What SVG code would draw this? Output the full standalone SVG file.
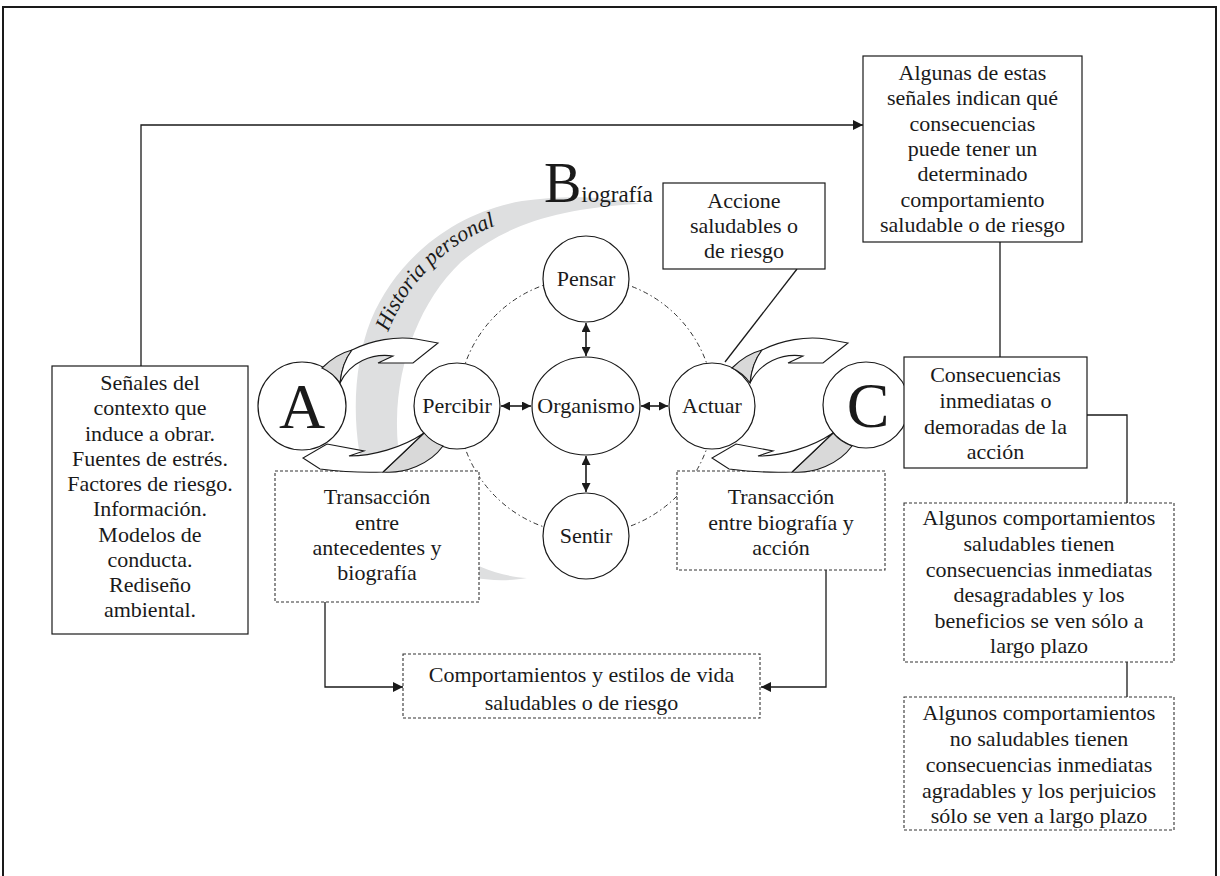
<svg xmlns="http://www.w3.org/2000/svg" width="1220" height="876" viewBox="0 0 1220 876">
<defs>
<style>
  text { font-family: "Liberation Serif", "Times New Roman", serif; fill: #1a1a1a; }
  .t { font-size: 22px; text-anchor: middle; }
  .big { font-size: 64px; text-anchor: middle; }
  .box { fill: #fff; stroke: #1a1a1a; stroke-width: 1.2; }
  .dot { fill: #fff; stroke: #333; stroke-width: 1.1; stroke-dasharray: 3 2; }
  .node { fill: #fff; stroke: #1a1a1a; stroke-width: 1.2; }
  .wire { fill: none; stroke: #1a1a1a; stroke-width: 1.3; }
  .arrow { marker-end: url(#tip); }
  .dbl { fill: none; stroke: #1a1a1a; stroke-width: 1.6; marker-start: url(#head); marker-end: url(#head); }
  .ring { fill: none; stroke: #333; stroke-width: 1; stroke-dasharray: 5 3 1.5 3; }
  .ribbon { fill: #fff; stroke: #1a1a1a; stroke-width: 1.1; stroke-linejoin: miter; }
  .shade { fill: #d9d9d9; stroke: #1a1a1a; stroke-width: 1.1; }
</style>
<marker id="head" viewBox="0 0 10 10" refX="10" refY="5" markerWidth="9" markerHeight="9" markerUnits="userSpaceOnUse" orient="auto-start-reverse">
  <path d="M0,0 L10,5 L0,10 z" fill="#1a1a1a"/>
</marker>
<marker id="tip" viewBox="0 0 10 10" refX="10" refY="5" markerWidth="11" markerHeight="10" markerUnits="userSpaceOnUse" orient="auto">
  <path d="M0,0 L10,5 L0,10 z" fill="#1a1a1a"/>
</marker>
<!-- twisted ribbon arrow, left circle to right circle (upper) -->
<g id="turn-fwd">
  <path class="shade" d="M322,368 Q336,354 352,350 Q342,363 340,383 A44,44 0 0,0 322,368 Z"/>
  <path class="ribbon" d="M352,350 C372,340 396,336 416,339 L438,343 L413,363 L378,363 L393,356 C372,353 350,362 340,383 Q342,363 352,350 Z"/>
</g>
<!-- twisted ribbon arrow, right circle back to left circle (lower) -->
<g id="turn-back">
  <path class="shade" d="M443,446 C430,464 405,474 383,472 Q400,456 424,433 A43,43 0 0,0 443,446 Z"/>
  <path class="ribbon" d="M383,472 C362,473 336,471 320,469 L303,458 L327,444 L364,451 L349,456 C372,456 402,448 424,433 Q400,456 383,472 Z"/>
</g>
</defs>

<rect width="1220" height="876" fill="#fff"/>
<!-- outer frame (open at the bottom edge of the page) -->
<rect x="3" y="7" width="1213" height="900" fill="none" stroke="#1a1a1a" stroke-width="2"/>

<!-- biography band -->
<g id="biografia">
  <path d="M640,204 C605,196 562,195 522,201 C452,213 396,260 371,320 C351,370 351,440 369,490 C386,535 421,565 470,577 C490,581 510,581 527,578 C505,577 476,568 451,550 C411,520 396,470 397,420 C398,360 421,300 461,262 C501,228 552,208 640,204 Z" fill="#dedfe0"/>
  <path id="band-path" d="M388.2,332.1 A184,184 0 0,1 591.9,216.8" fill="none"/>
  <text font-style="italic" font-size="22" fill="#333"><textPath href="#band-path">Historia personal</textPath></text>
  <text x="544" y="202"><tspan font-size="56">B</tspan><tspan font-size="23">iografía</tspan></text>
</g>

<!-- dashed ring through the four processes -->
<circle class="ring" cx="586" cy="406" r="128"/>

<g id="connectors">
  <path class="wire arrow" d="M141,366 V125 H863"/>
  <path class="wire arrow" d="M325,602 V687 H403"/>
  <path class="wire arrow" d="M826,570 V687 H761"/>
  <path class="wire" d="M1000,242 V357"/>
  <path class="wire" d="M1087,415 H1127 V503"/>
  <path class="wire" d="M1127,662 V697"/>
  <path class="wire" d="M725,362 L797,269"/>
  <path class="dbl" d="M586,323 V356"/>
  <path class="dbl" d="M586,456 V492"/>
  <path class="dbl" d="M501,406 H531"/>
  <path class="dbl" d="M641,406 H668"/>
</g>

<g id="node-a"><circle class="node" cx="302" cy="406" r="44"/><text class="big" x="302" y="428">A</text></g>
<g id="node-percibir"><circle class="node" cx="457" cy="406" r="43"/><text class="t" x="457" y="413">Percibir</text></g>
<g id="node-pensar"><circle class="node" cx="586" cy="279" r="43"/><text class="t" x="586" y="286">Pensar</text></g>
<g id="node-organismo"><ellipse class="node" cx="586" cy="406" rx="54" ry="49"/><text class="t" x="586" y="413">Organismo</text></g>
<g id="node-sentir"><circle class="node" cx="586" cy="536" r="43"/><text class="t" x="586" y="543">Sentir</text></g>
<g id="node-actuar"><circle class="node" cx="712" cy="406" r="43"/><text class="t" x="712" y="413">Actuar</text></g>
<g id="node-c"><circle class="node" cx="866" cy="405" r="43"/><text class="big" x="868" y="427">C</text></g>

<g id="node-senales">
  <rect class="box" x="52" y="366" width="196" height="268"/>
  <text class="t" x="150" y="390">Señales del</text>
  <text class="t" x="150" y="415">contexto que</text>
  <text class="t" x="150" y="441">induce a obrar.</text>
  <text class="t" x="150" y="466">Fuentes de estrés.</text>
  <text class="t" x="150" y="491">Factores de riesgo.</text>
  <text class="t" x="150" y="516">Información.</text>
  <text class="t" x="150" y="542">Modelos de</text>
  <text class="t" x="150" y="567">conducta.</text>
  <text class="t" x="150" y="592">Rediseño</text>
  <text class="t" x="150" y="617">ambiental.</text>
</g>

<g id="node-senales-consecuencias">
  <rect class="box" x="863" y="56" width="219" height="186"/>
  <text class="t" x="972.5" y="80">Algunas de estas</text>
  <text class="t" x="972.5" y="105">señales indican qué</text>
  <text class="t" x="972.5" y="131">consecuencias</text>
  <text class="t" x="972.5" y="156">puede tener un</text>
  <text class="t" x="972.5" y="181">determinado</text>
  <text class="t" x="972.5" y="207">comportamiento</text>
  <text class="t" x="972.5" y="232">saludable o de riesgo</text>
</g>

<g id="node-acciones">
  <rect class="box" x="663" y="183" width="162" height="86"/>
  <text class="t" x="744" y="208">Accione</text>
  <text class="t" x="744" y="233">saludables o</text>
  <text class="t" x="744" y="258">de riesgo</text>
</g>

<g id="node-consecuencias">
  <rect class="box" x="904" y="357" width="183" height="111"/>
  <text class="t" x="995.5" y="382">Consecuencias</text>
  <text class="t" x="995.5" y="408">inmediatas o</text>
  <text class="t" x="995.5" y="434">demoradas de la</text>
  <text class="t" x="995.5" y="459">acción</text>
</g>

<g id="node-saludables">
  <rect class="dot" x="904" y="503" width="270" height="159"/>
  <text class="t" x="1039" y="525">Algunos comportamientos</text>
  <text class="t" x="1039" y="551">saludables tienen</text>
  <text class="t" x="1039" y="577">consecuencias inmediatas</text>
  <text class="t" x="1039" y="602">desagradables y los</text>
  <text class="t" x="1039" y="628">beneficios se ven sólo a</text>
  <text class="t" x="1039" y="653">largo plazo</text>
</g>

<g id="node-no-saludables">
  <rect class="dot" x="904" y="697" width="270" height="133"/>
  <text class="t" x="1039" y="720">Algunos comportamientos</text>
  <text class="t" x="1039" y="746">no saludables tienen</text>
  <text class="t" x="1039" y="772">consecuencias inmediatas</text>
  <text class="t" x="1039" y="798">agradables y los perjuicios</text>
  <text class="t" x="1039" y="823">sólo se ven a largo plazo</text>
</g>

<g id="node-transaccion-ab">
  <rect class="dot" x="275" y="471" width="204" height="131"/>
  <text class="t" x="377" y="504">Transacción</text>
  <text class="t" x="377" y="530">entre</text>
  <text class="t" x="377" y="555">antecedentes y</text>
  <text class="t" x="377" y="580">biografía</text>
</g>

<g id="node-transaccion-bc">
  <rect class="dot" x="677" y="471" width="208" height="99"/>
  <text class="t" x="781" y="504">Transacción</text>
  <text class="t" x="781" y="530">entre biografía y</text>
  <text class="t" x="781" y="555">acción</text>
</g>

<g id="node-comportamientos">
  <rect class="dot" x="403" y="654" width="357" height="64"/>
  <text class="t" x="581.5" y="682">Comportamientos y estilos de vida</text>
  <text class="t" x="581.5" y="710">saludables o de riesgo</text>
</g>

<g id="cycle-arrows">
  <use href="#turn-fwd"/>
  <use href="#turn-back"/>
  <use href="#turn-fwd" transform="translate(410,0)"/>
  <use href="#turn-back" transform="translate(409,0)"/>
</g>
</svg>
